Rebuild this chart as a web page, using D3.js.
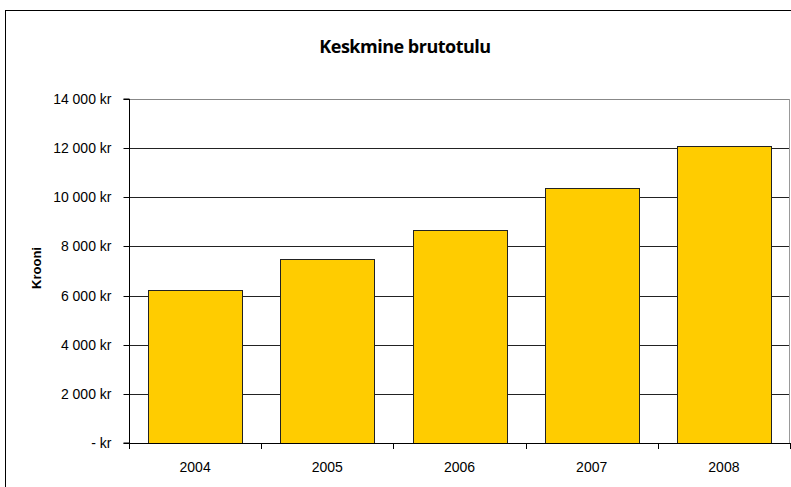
<!DOCTYPE html>
<html>
<head>
<meta charset="utf-8">
<script src="https://cdn.jsdelivr.net/npm/d3@7"></script>
<style>
  body { margin: 0; background: #fff; }
  svg { display: block; }
</style>
</head>
<body>
<svg id="chart"></svg>
<script>
const years = ['2004', '2005', '2006', '2007', '2008'];
const income = [6240, 7490, 8650, 10380, 12100];
const yTicks = [0, 2000, 4000, 6000, 8000, 10000, 12000, 14000];

const width = 791, height = 487;
const plot = { left: 129, top: 99, right: 790, bottom: 443 };

let svg = d3.select('#chart')
   .attr('width', width)
   .attr('height', height);

// outer chart frame
svg.append('rect')
   .attr('x', 5.5).attr('y', 10.5)
   .attr('width', 800).attr('height', 500)
   .style('fill', '#fff')
   .style('stroke', '#000')
   .style('stroke-width', 1);

let x = d3.scaleBand()
   .domain(years)
   .range([plot.left, plot.right])
   .paddingInner(0.29)
   .paddingOuter(0.145);

let y = d3.scaleLinear()
   .domain([0, 14000])
   .range([plot.bottom, plot.top]);

let fmt = v => v === 0 ? '- kr' : d3.format(',')(v).replace(/,/g, ' ') + ' kr';

// gridlines
svg.append('g')
   .selectAll('line')
   .data(yTicks.filter(v => v > 0))
   .join('line')
   .attr('x1', plot.left).attr('x2', plot.right)
   .attr('y1', d => Math.round(y(d)) + 0.5)
   .attr('y2', d => Math.round(y(d)) + 0.5)
   .style('stroke', d => d === 14000 ? '#888' : '#222')
   .style('stroke-width', 1);

// right edge of plot area
svg.append('line')
   .attr('x1', plot.right - 0.5).attr('x2', plot.right - 0.5)
   .attr('y1', plot.top).attr('y2', plot.bottom)
   .style('stroke', '#999');

// bars
svg.append('g')
   .selectAll('rect')
   .data(years)
   .join('rect')
   .attr('x', d => Math.round(x(d)) + 0.5)
   .attr('y', (d, i) => Math.round(y(income[i])) + 0.5)
   .attr('width', Math.round(x.bandwidth()))
   .attr('height', (d, i) => Math.round(y(0)) - Math.round(y(income[i])))
   .style('fill', '#FFCC00')
   .style('stroke', '#222')
   .style('stroke-width', 1);

// y axis
let yAxis = svg.append('g')
   .attr('transform', `translate(${plot.left + 0.5},0)`)
   .call(d3.axisLeft(y).tickValues(yTicks).tickFormat(fmt).tickSize(6).tickPadding(12)
      .offset(0));
yAxis.select('.domain').style('stroke', '#000');
yAxis.selectAll('.tick line').style('stroke', '#000');
yAxis.selectAll('.tick').attr('transform', d => `translate(0,${Math.round(y(d)) + 0.5})`);
yAxis.selectAll('text')
   .style('font-family', 'Liberation Sans, Arial, sans-serif')
   .style('font-size', '14px')
   .style('fill', '#000');

// x axis
let xAxis = svg.append('g')
   .attr('transform', `translate(0,${plot.bottom + 0.5})`)
   .call(d3.axisBottom(x).tickSize(0).tickPadding(19).offset(0));
xAxis.select('.domain').style('stroke', '#000');
xAxis.selectAll('text')
   .style('font-family', 'Liberation Sans, Arial, sans-serif')
   .style('font-size', '14px')
   .style('fill', '#000');

// category separators
svg.append('g')
   .selectAll('line')
   .data(d3.range(years.length + 1))
   .join('line')
   .attr('x1', i => Math.round(plot.left + i * x.step()) + 0.5)
   .attr('x2', i => Math.round(plot.left + i * x.step()) + 0.5)
   .attr('y1', plot.bottom)
   .attr('y2', plot.bottom + 6)
   .style('stroke', '#000');

// title
svg.append('text')
   .attr('x', 405).attr('y', 53)
   .attr('text-anchor', 'middle')
   .style('font-family', 'Open Sans, sans-serif')
   .style('font-weight', 'bold')
   .style('font-size', '18px')
   .style('letter-spacing', '-0.5px')
   .text('Keskmine brutotulu');

// y title
svg.append('text')
   .attr('transform', 'translate(41,268) rotate(-90)')
   .attr('text-anchor', 'middle')
   .style('font-family', 'Liberation Sans, Arial, sans-serif')
   .style('font-weight', 'bold')
   .style('font-size', '13px')
   .text('Krooni');
</script>
</body>
</html>
